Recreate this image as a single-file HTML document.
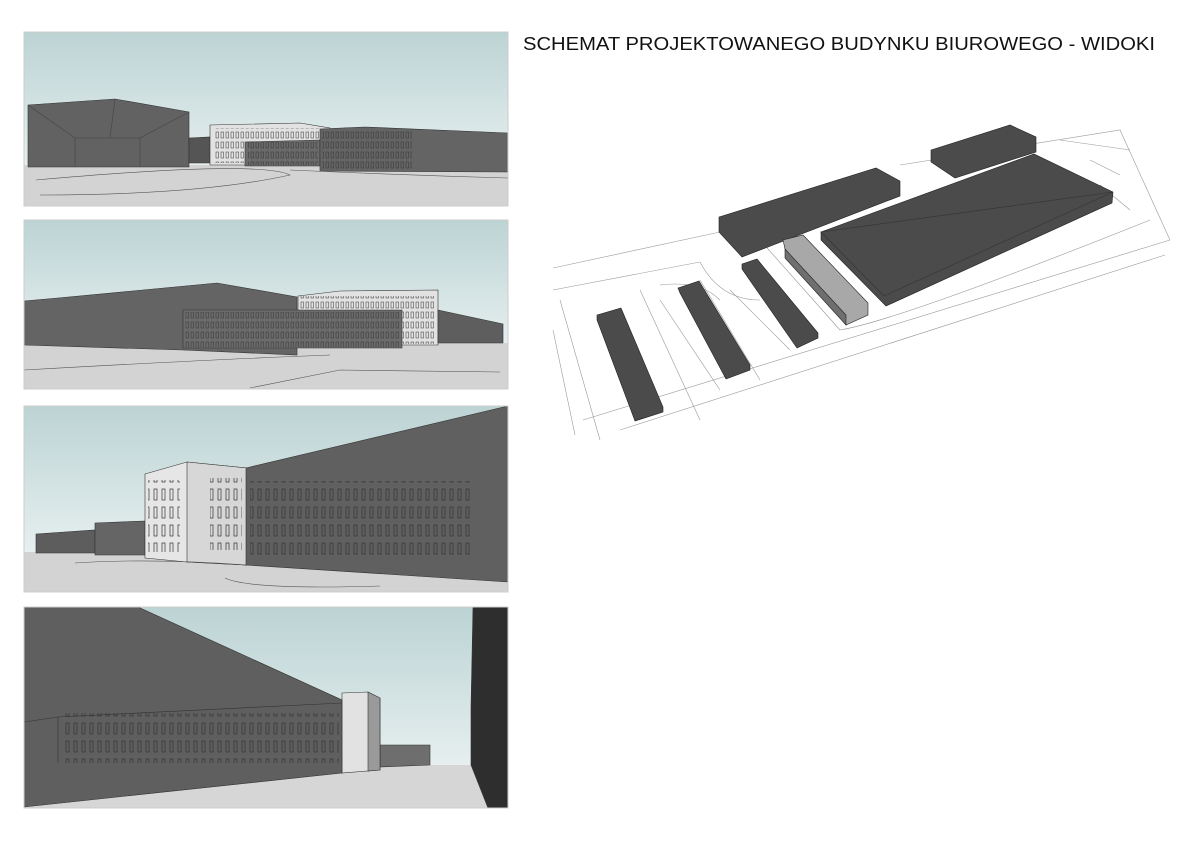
<!DOCTYPE html>
<html><head><meta charset="utf-8"><style>
html,body{margin:0;padding:0;background:#fff;}
svg{display:block;}
</style></head><body>
<svg width="1200" height="849" viewBox="0 0 1200 849" xmlns="http://www.w3.org/2000/svg">
<defs>
<linearGradient id="sky" x1="0" y1="0" x2="0" y2="1">
<stop offset="0" stop-color="#bcd3d4"/><stop offset="1" stop-color="#e8f0f0"/>
</linearGradient>
<pattern id="wd" width="8" height="18" patternUnits="userSpaceOnUse">
<rect x="2" y="3" width="3" height="11" fill="none" stroke="#333" stroke-width="0.7"/>
</pattern>
<pattern id="ws" width="5" height="10" patternUnits="userSpaceOnUse">
<rect x="1" y="2" width="2.5" height="6" fill="none" stroke="#333" stroke-width="0.5"/>
</pattern>
<clipPath id="c1"><rect x="24" y="32" width="484" height="174"/></clipPath>
<clipPath id="c2"><rect x="24" y="220" width="484" height="169"/></clipPath>
<clipPath id="c3"><rect x="24" y="406" width="484" height="186"/></clipPath>
<clipPath id="c4"><rect x="24" y="607" width="484" height="201"/></clipPath>
</defs>
<rect width="1200" height="849" fill="#fff"/>
<text x="523" y="50" font-family="Liberation Sans, sans-serif" font-size="18" fill="#111" textLength="632" lengthAdjust="spacingAndGlyphs">SCHEMAT PROJEKTOWANEGO BUDYNKU BIUROWEGO - WIDOKI</text>

<!-- Panel 1 -->
<g clip-path="url(#c1)" stroke="#333" stroke-width="0.6">
<rect x="24" y="32" width="484" height="140" fill="url(#sky)" stroke="none"/>
<rect x="24" y="165" width="484" height="41" fill="#d3d3d3" stroke="none"/>
<polygon points="28,105 115,99 189,112 189,167 28,167" fill="#626262"/>
<path d="M28,105 L75,138 L140,138 L189,112 M75,138 L75,167 M140,138 L140,167 M115,99 L110,138" fill="none" stroke="#444"/>
<polygon points="189,138 210,137 210,163 189,163" fill="#555"/>
<polygon points="210,125 300,123 330,128 330,165 210,165" fill="#e2e2e2"/>
<rect x="215" y="128" width="105" height="35" fill="url(#ws)" stroke="none"/>
<polygon points="245,142 320,140 320,166 245,166" fill="#6a6a6a"/>
<rect x="248" y="142" width="70" height="23" fill="url(#ws)" stroke="none"/>
<polygon points="320,129 365,127 508,133 508,172 320,171" fill="#646464"/>
<rect x="322" y="131" width="90" height="38" fill="url(#ws)" stroke="none"/>
<path d="M36,180 Q260,160 290,175 Q200,195 40,195 M290,170 Q400,175 508,178" fill="none" stroke="#555"/>
</g>
<rect x="24" y="32" width="484" height="174" fill="none" stroke="#ccc"/>

<!-- Panel 2 -->
<g clip-path="url(#c2)" stroke="#333" stroke-width="0.6">
<rect x="24" y="220" width="484" height="130" fill="url(#sky)" stroke="none"/>
<rect x="24" y="343" width="484" height="46" fill="#d3d3d3" stroke="none"/>
<polygon points="24,301 58,298 217,283 297,297 297,355 183,350 24,345" fill="#646464"/>
<polygon points="298,296 340,291 438,290 438,345 298,345" fill="#e2e2e2"/>
<rect x="300" y="296" width="135" height="48" fill="url(#ws)" stroke="none"/>
<polygon points="183,310 402,310 402,348 183,348" fill="#6b6b6b"/>
<rect x="185" y="312" width="215" height="35" fill="url(#ws)" stroke="none"/>
<polygon points="438,310 503,324 503,343 438,343" fill="#5e5e5e"/>
<path d="M24,370 Q200,360 330,355 M250,388 L340,370 L500,372" fill="none" stroke="#555"/>
</g>
<rect x="24" y="220" width="484" height="169" fill="none" stroke="#ccc"/>

<!-- Panel 3 -->
<g clip-path="url(#c3)" stroke="#333" stroke-width="0.6">
<rect x="24" y="406" width="484" height="150" fill="url(#sky)" stroke="none"/>
<rect x="24" y="552" width="484" height="40" fill="#d3d3d3" stroke="none"/>
<polygon points="36,534 95,530 95,553 36,553" fill="#5d5d5d"/>
<polygon points="95,523 145,521 145,555 95,555" fill="#656565"/>
<polygon points="145,474 187,462 247,468 247,565 187,562 145,558" fill="#e6e6e6"/>
<polygon points="187,462 247,468 247,565 187,562" fill="#d7d7d7"/>
<rect x="148" y="480" width="32" height="72" fill="url(#wd)" stroke="none"/>
<rect x="210" y="478" width="32" height="72" fill="url(#wd)" stroke="none"/>
<polygon points="246,468 508,406 508,582 246,565" fill="#606060"/>
<rect x="250" y="481" width="220" height="74" fill="url(#wd)" stroke="none"/>
<path d="M75,563 Q150,558 246,565 M225,578 Q250,590 380,586" fill="none" stroke="#555"/>
</g>
<rect x="24" y="406" width="484" height="186" fill="none" stroke="#ccc"/>

<!-- Panel 4 -->
<g clip-path="url(#c4)" stroke="#333" stroke-width="0.6">
<rect x="24" y="607" width="484" height="165" fill="url(#sky)" stroke="none"/>
<rect x="24" y="765" width="484" height="43" fill="#d6d6d6" stroke="none"/>
<polygon points="380,745 430,745 430,765 380,767" fill="#6e6e6e"/>
<polygon points="342,693 368,692 380,698 380,770 342,773" fill="#e2e2e2"/>
<polygon points="368,692 380,698 380,770 368,771" fill="#9a9a9a"/>
<polygon points="24,607 138,607 342,700 342,773 24,807" fill="#5f5f5f"/>
<rect x="64" y="713" width="275" height="50" fill="url(#wd)" stroke="none"/>
<path d="M24,722 L58,717 L342,703 M58,717 L58,763" fill="none" stroke="#333"/>
<polygon points="473,607 508,607 508,808 488,808 471,765 471,707" fill="#2e2e2e"/>
</g>
<rect x="24" y="607" width="484" height="201" fill="none" stroke="#ccc"/>

<!-- Axonometric site -->
<g fill="none" stroke="#999" stroke-width="0.6">
<path d="M553,268 L720,232 M553,290 L700,262 M560,300 L600,440 M553,330 L575,435 M583,420 L1170,240 M620,430 L1165,255 M900,165 L1120,130 L1170,240 M700,262 Q720,300 760,300"/>
<path d="M640,290 L700,420 M660,285 Q700,280 720,300 M730,290 L790,350 M700,280 L760,380 M760,240 L840,330 Q900,320 1150,220 M660,300 L720,390"/>
<path d="M1060,140 L1130,150 M1090,160 L1120,175 M1100,185 L1130,210"/>
</g>
<g stroke="#222" stroke-width="0.6">
<polygon points="821,232 1034,154 1113,192 1112,203 886,306 821,240" fill="#4b4b4b"/>
<polygon points="821,232 884,296 1113,192" fill="none" stroke="#333"/>
<polygon points="719,217 876,168 900,181 900,196 742,257 719,232" fill="#4b4b4b"/>
<polygon points="931,150 1010,125 1036,137 1036,152 955,178 931,162" fill="#4b4b4b"/>
<polygon points="783,240 803,235 868,303 868,315 846,325 785,249" fill="#a8a8a8"/>
<polygon points="785,249 846,315 846,325 785,258" fill="#6f6f6f"/>
<polygon points="742,264 757,259 818,333 818,338 797,348 742,269" fill="#4b4b4b"/>
<polygon points="678,288 699,281 750,365 750,370 726,379 680,293" fill="#4b4b4b"/>
<polygon points="597,315 621,308 663,407 663,412 635,421 597,320" fill="#4b4b4b"/>
</g>
</svg>
</body></html>
